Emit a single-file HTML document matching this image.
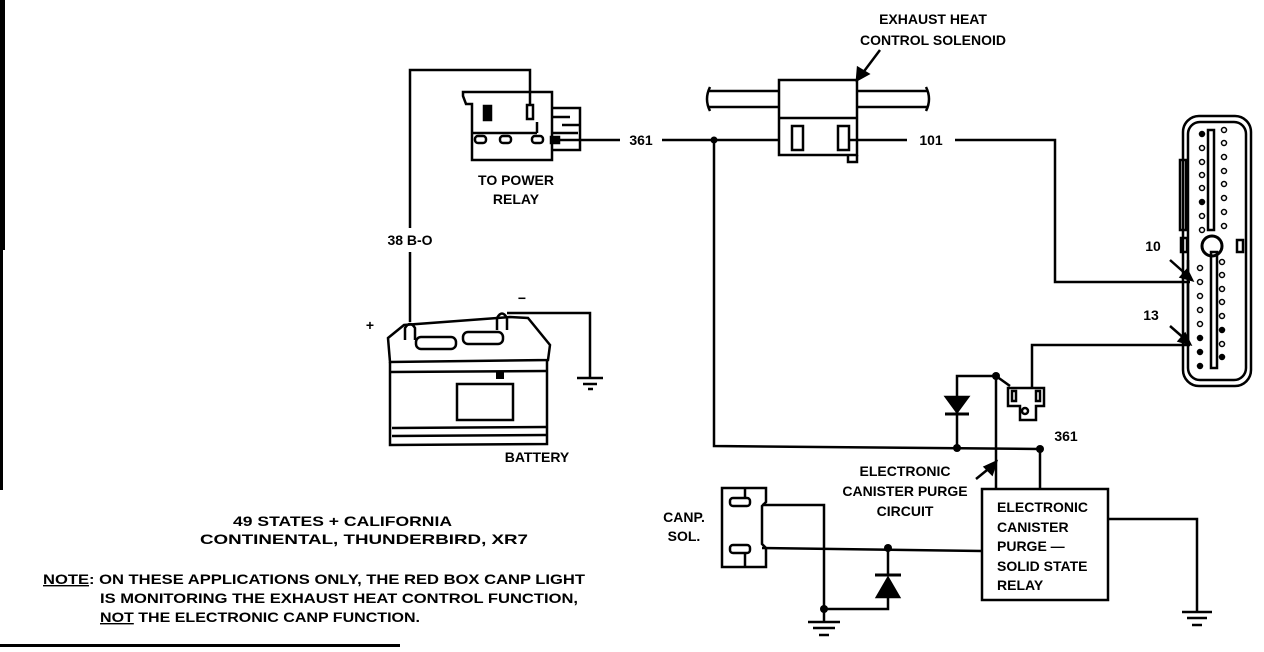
<!DOCTYPE html>
<html><head><meta charset="utf-8"><style>
html,body{margin:0;padding:0;background:#fff;}
svg{display:block;}
text{font-family:"Liberation Sans",sans-serif;font-weight:bold;fill:#000;font-size:14px;}
</style></head><body>
<svg width="1264" height="652" viewBox="0 0 1264 652" xmlns="http://www.w3.org/2000/svg">
<g fill="none" stroke="#000" stroke-width="2.5">
<rect x="0" y="0" width="5" height="250" fill="#000" stroke="none"/>
<rect x="0" y="250" width="3" height="240" fill="#000" stroke="none"/>
<rect x="0" y="644" width="400" height="3" fill="#000" stroke="none"/>
<polyline points="410,228 410,70 530,70 530,105"/>
<line x1="410" y1="252" x2="410" y2="322"/>
<path d="M463,96 L463,92 L552,92 L552,160 L472,160 L472,104 L466,104 Z"/>
<rect x="484" y="106" width="7" height="14" fill="#000"/>
<rect x="527" y="105" width="6" height="14"/>
<line x1="472" y1="133" x2="537" y2="133"/>
<line x1="537" y1="122" x2="537" y2="133"/>
<rect x="475" y="136" width="11" height="7" rx="3"/>
<rect x="500" y="136" width="11" height="7" rx="3"/>
<rect x="532" y="136" width="11" height="7" rx="3"/>
<path d="M552,108 L580,108 L580,150 L552,150"/>
<path d="M553,117 L570,117 M562,125 L580,125 M553,133 L578,133"/>
<rect x="551" y="137" width="8" height="6" fill="#000"/>
<line x1="559" y1="140" x2="620" y2="140"/>
<line x1="662" y1="140" x2="780" y2="140"/>
<polyline points="714,140 714,446 1040,449"/>
<rect x="779" y="80" width="78" height="75"/>
<line x1="779" y1="118" x2="857" y2="118"/>
<path d="M857,155 L857,162 L848,162 L848,155"/>
<line x1="708" y1="91" x2="779" y2="91"/><line x1="708" y1="107" x2="779" y2="107"/>
<line x1="857" y1="91" x2="928" y2="91"/><line x1="857" y1="107" x2="928" y2="107"/>
<path d="M710,87 Q704,99 710,111"/><path d="M926,87 Q932,99 926,111"/>
<rect x="792" y="126" width="11" height="24"/>
<rect x="838" y="126" width="11" height="24"/>
<line x1="849" y1="140" x2="907" y2="140"/>
<polyline points="955,140 1055,140 1055,282 1190,282"/>
<line x1="880" y1="50" x2="862" y2="74"/>
<polygon points="857,80 858,68 868,74" fill="#000"/>
<path d="M388,338 L404,325 L510,317 L528,318 L550,345 L548,360 L390,362 Z"/>
<path d="M390,362 L390,445 L547,444 L547,360"/>
<line x1="390" y1="372" x2="547" y2="371"/>
<line x1="392" y1="428" x2="546" y2="427"/>
<line x1="392" y1="436" x2="546" y2="435"/>
<rect x="457" y="384" width="56" height="36"/>
<rect x="496" y="371" width="8" height="8" fill="#000" stroke="none"/>
<rect x="416" y="337" width="40" height="12" rx="5"/>
<rect x="463" y="332" width="40" height="12" rx="5"/>
<path d="M405,340 L405,328 Q410,320 415,328 L415,340"/>
<path d="M497,330 L497,318 Q502,309 507,318 L507,330"/>
<polyline points="507,313 590,313 590,378"/>
<line x1="577" y1="378" x2="603" y2="378"/>
<line x1="583" y1="384" x2="597" y2="384"/>
<line x1="588" y1="389" x2="593" y2="389"/>
<rect x="1183" y="116" width="68" height="270" rx="16"/>
<rect x="1188" y="122" width="58" height="258" rx="12"/>
<rect x="1208" y="130" width="6" height="100"/>
<rect x="1211" y="252" width="6" height="116"/>
<circle cx="1212" cy="246" r="10" stroke-width="3"/>
<rect x="1180" y="160" width="6" height="70"/>
<rect x="1181" y="238" width="6" height="14"/>
<rect x="1237" y="240" width="6" height="12"/>
<line x1="1188" y1="260" x2="1188" y2="345"/>
<g stroke-width="1.5">
<circle cx="1202" cy="134" r="2.5" fill="#000"/><circle cx="1202" cy="148" r="2.5"/><circle cx="1202" cy="162" r="2.5"/><circle cx="1202" cy="175" r="2.5"/><circle cx="1202" cy="188" r="2.5"/><circle cx="1202" cy="202" r="2.5" fill="#000"/><circle cx="1202" cy="216" r="2.5"/><circle cx="1202" cy="230" r="2.5"/>
<circle cx="1224" cy="130" r="2.5"/><circle cx="1224" cy="143" r="2.5"/><circle cx="1224" cy="157" r="2.5"/><circle cx="1224" cy="171" r="2.5"/><circle cx="1224" cy="184" r="2.5"/><circle cx="1224" cy="198" r="2.5"/><circle cx="1224" cy="212" r="2.5"/><circle cx="1224" cy="226" r="2.5"/>
<circle cx="1200" cy="268" r="2.5"/><circle cx="1200" cy="282" r="2.5"/><circle cx="1200" cy="296" r="2.5"/><circle cx="1200" cy="310" r="2.5"/><circle cx="1200" cy="324" r="2.5"/><circle cx="1200" cy="338" r="2.5" fill="#000"/><circle cx="1200" cy="352" r="2.5" fill="#000"/><circle cx="1200" cy="366" r="2.5" fill="#000"/>
<circle cx="1222" cy="262" r="2.5"/><circle cx="1222" cy="275" r="2.5"/><circle cx="1222" cy="289" r="2.5"/><circle cx="1222" cy="302" r="2.5"/><circle cx="1222" cy="316" r="2.5"/><circle cx="1222" cy="330" r="2.5" fill="#000"/><circle cx="1222" cy="344" r="2.5"/><circle cx="1222" cy="357" r="2.5" fill="#000"/>
</g>
<line x1="1170" y1="260" x2="1188" y2="276"/>
<polygon points="1192,280 1181,277 1187,270" fill="#000"/>
<line x1="1170" y1="326" x2="1186" y2="340"/>
<polygon points="1190,344 1179,341 1185,334" fill="#000"/>
<polyline points="1190,345 1032,345 1032,388"/>
<polyline points="957,449 957,376 996,376"/>
<polygon points="946,397 968,397 957,412" fill="#000"/>
<line x1="945" y1="414" x2="969" y2="414" stroke-width="3"/>
<line x1="996" y1="376" x2="996" y2="489"/>
<line x1="996" y1="376" x2="1010" y2="386"/>
<path d="M1008,388 L1044,388 L1044,406 L1036,406 L1036,420 L1020,420 L1020,406 L1008,406 Z"/>
<rect x="1012" y="391" width="4" height="10"/><rect x="1036" y="391" width="4" height="10"/>
<circle cx="1025" cy="411" r="3"/>
<line x1="1040" y1="449" x2="1040" y2="489"/>
<rect x="982" y="489" width="126" height="111"/>
<polyline points="1108,519 1197,519 1197,612"/>
<line x1="1182" y1="612" x2="1212" y2="612"/>
<line x1="1187" y1="618" x2="1207" y2="618"/>
<line x1="1192" y1="625" x2="1202" y2="625"/>
<line x1="976" y1="479" x2="992" y2="466"/>
<polygon points="996,462 992,474 985,467" fill="#000"/>
<path d="M722,488 L766,488 L766,502 L762,506 L762,544 L766,548 L766,567 L722,567 Z"/>
<rect x="730" y="498" width="20" height="8" rx="3"/>
<rect x="730" y="545" width="20" height="8" rx="3"/>
<line x1="745" y1="553" x2="745" y2="567"/>
<line x1="745" y1="488" x2="745" y2="498"/>
<polyline points="762,505 824,505 824,609 888,609 888,590"/>
<line x1="762" y1="548" x2="982" y2="551"/>
<line x1="888" y1="548" x2="888" y2="575"/>
<polygon points="877,597 899,597 888,578" fill="#000"/>
<line x1="875" y1="575" x2="901" y2="575" stroke-width="3"/>
<line x1="824" y1="609" x2="824" y2="622"/>
<line x1="808" y1="622" x2="840" y2="622"/>
<line x1="813" y1="628" x2="835" y2="628"/>
<line x1="819" y1="635" x2="829" y2="635"/>
</g>
<g fill="#000">
<circle cx="714" cy="140" r="3.5"/>
<circle cx="957" cy="448" r="4"/><circle cx="1040" cy="449" r="4"/>
<circle cx="996" cy="376" r="4"/>
<circle cx="888" cy="548" r="4"/><circle cx="824" cy="609" r="4"/>
</g>
<text x="933" y="24" text-anchor="middle">EXHAUST HEAT</text>
<text x="933" y="45" text-anchor="middle">CONTROL SOLENOID</text>
<text x="641" y="145" text-anchor="middle">361</text>
<text x="931" y="145" text-anchor="middle">101</text>
<text x="516" y="185" text-anchor="middle">TO POWER</text>
<text x="516" y="204" text-anchor="middle">RELAY</text>
<text x="410" y="245" text-anchor="middle">38 B-O</text>
<text x="370" y="330" text-anchor="middle" font-size="17">+</text>
<text x="522" y="303" text-anchor="middle" font-size="17">−</text>
<text x="537" y="462" text-anchor="middle">BATTERY</text>
<text x="1153" y="251" text-anchor="middle">10</text>
<text x="1151" y="320" text-anchor="middle">13</text>
<text x="1066" y="441" text-anchor="middle">361</text>
<text x="905" y="476" text-anchor="middle">ELECTRONIC</text>
<text x="905" y="496" text-anchor="middle">CANISTER PURGE</text>
<text x="905" y="516" text-anchor="middle">CIRCUIT</text>
<text x="997" y="512">ELECTRONIC</text>
<text x="997" y="532">CANISTER</text>
<text x="997" y="551">PURGE —</text>
<text x="997" y="571">SOLID STATE</text>
<text x="997" y="590">RELAY</text>
<text x="684" y="522" text-anchor="middle">CANP.</text>
<text x="684" y="541" text-anchor="middle">SOL.</text>
<text x="233" y="526" textLength="219" lengthAdjust="spacingAndGlyphs">49 STATES + CALIFORNIA</text>
<text x="200" y="544" textLength="328" lengthAdjust="spacingAndGlyphs">CONTINENTAL, THUNDERBIRD, XR7</text>
<text x="43" y="584" textLength="542" lengthAdjust="spacingAndGlyphs"><tspan text-decoration="underline">NOTE</tspan>: ON THESE APPLICATIONS ONLY, THE RED BOX CANP LIGHT</text>
<text x="100" y="603" textLength="478" lengthAdjust="spacingAndGlyphs">IS MONITORING THE EXHAUST HEAT CONTROL FUNCTION,</text>
<text x="100" y="622" textLength="320" lengthAdjust="spacingAndGlyphs"><tspan text-decoration="underline">NOT</tspan> THE ELECTRONIC CANP FUNCTION.</text>
</svg>
</body></html>
